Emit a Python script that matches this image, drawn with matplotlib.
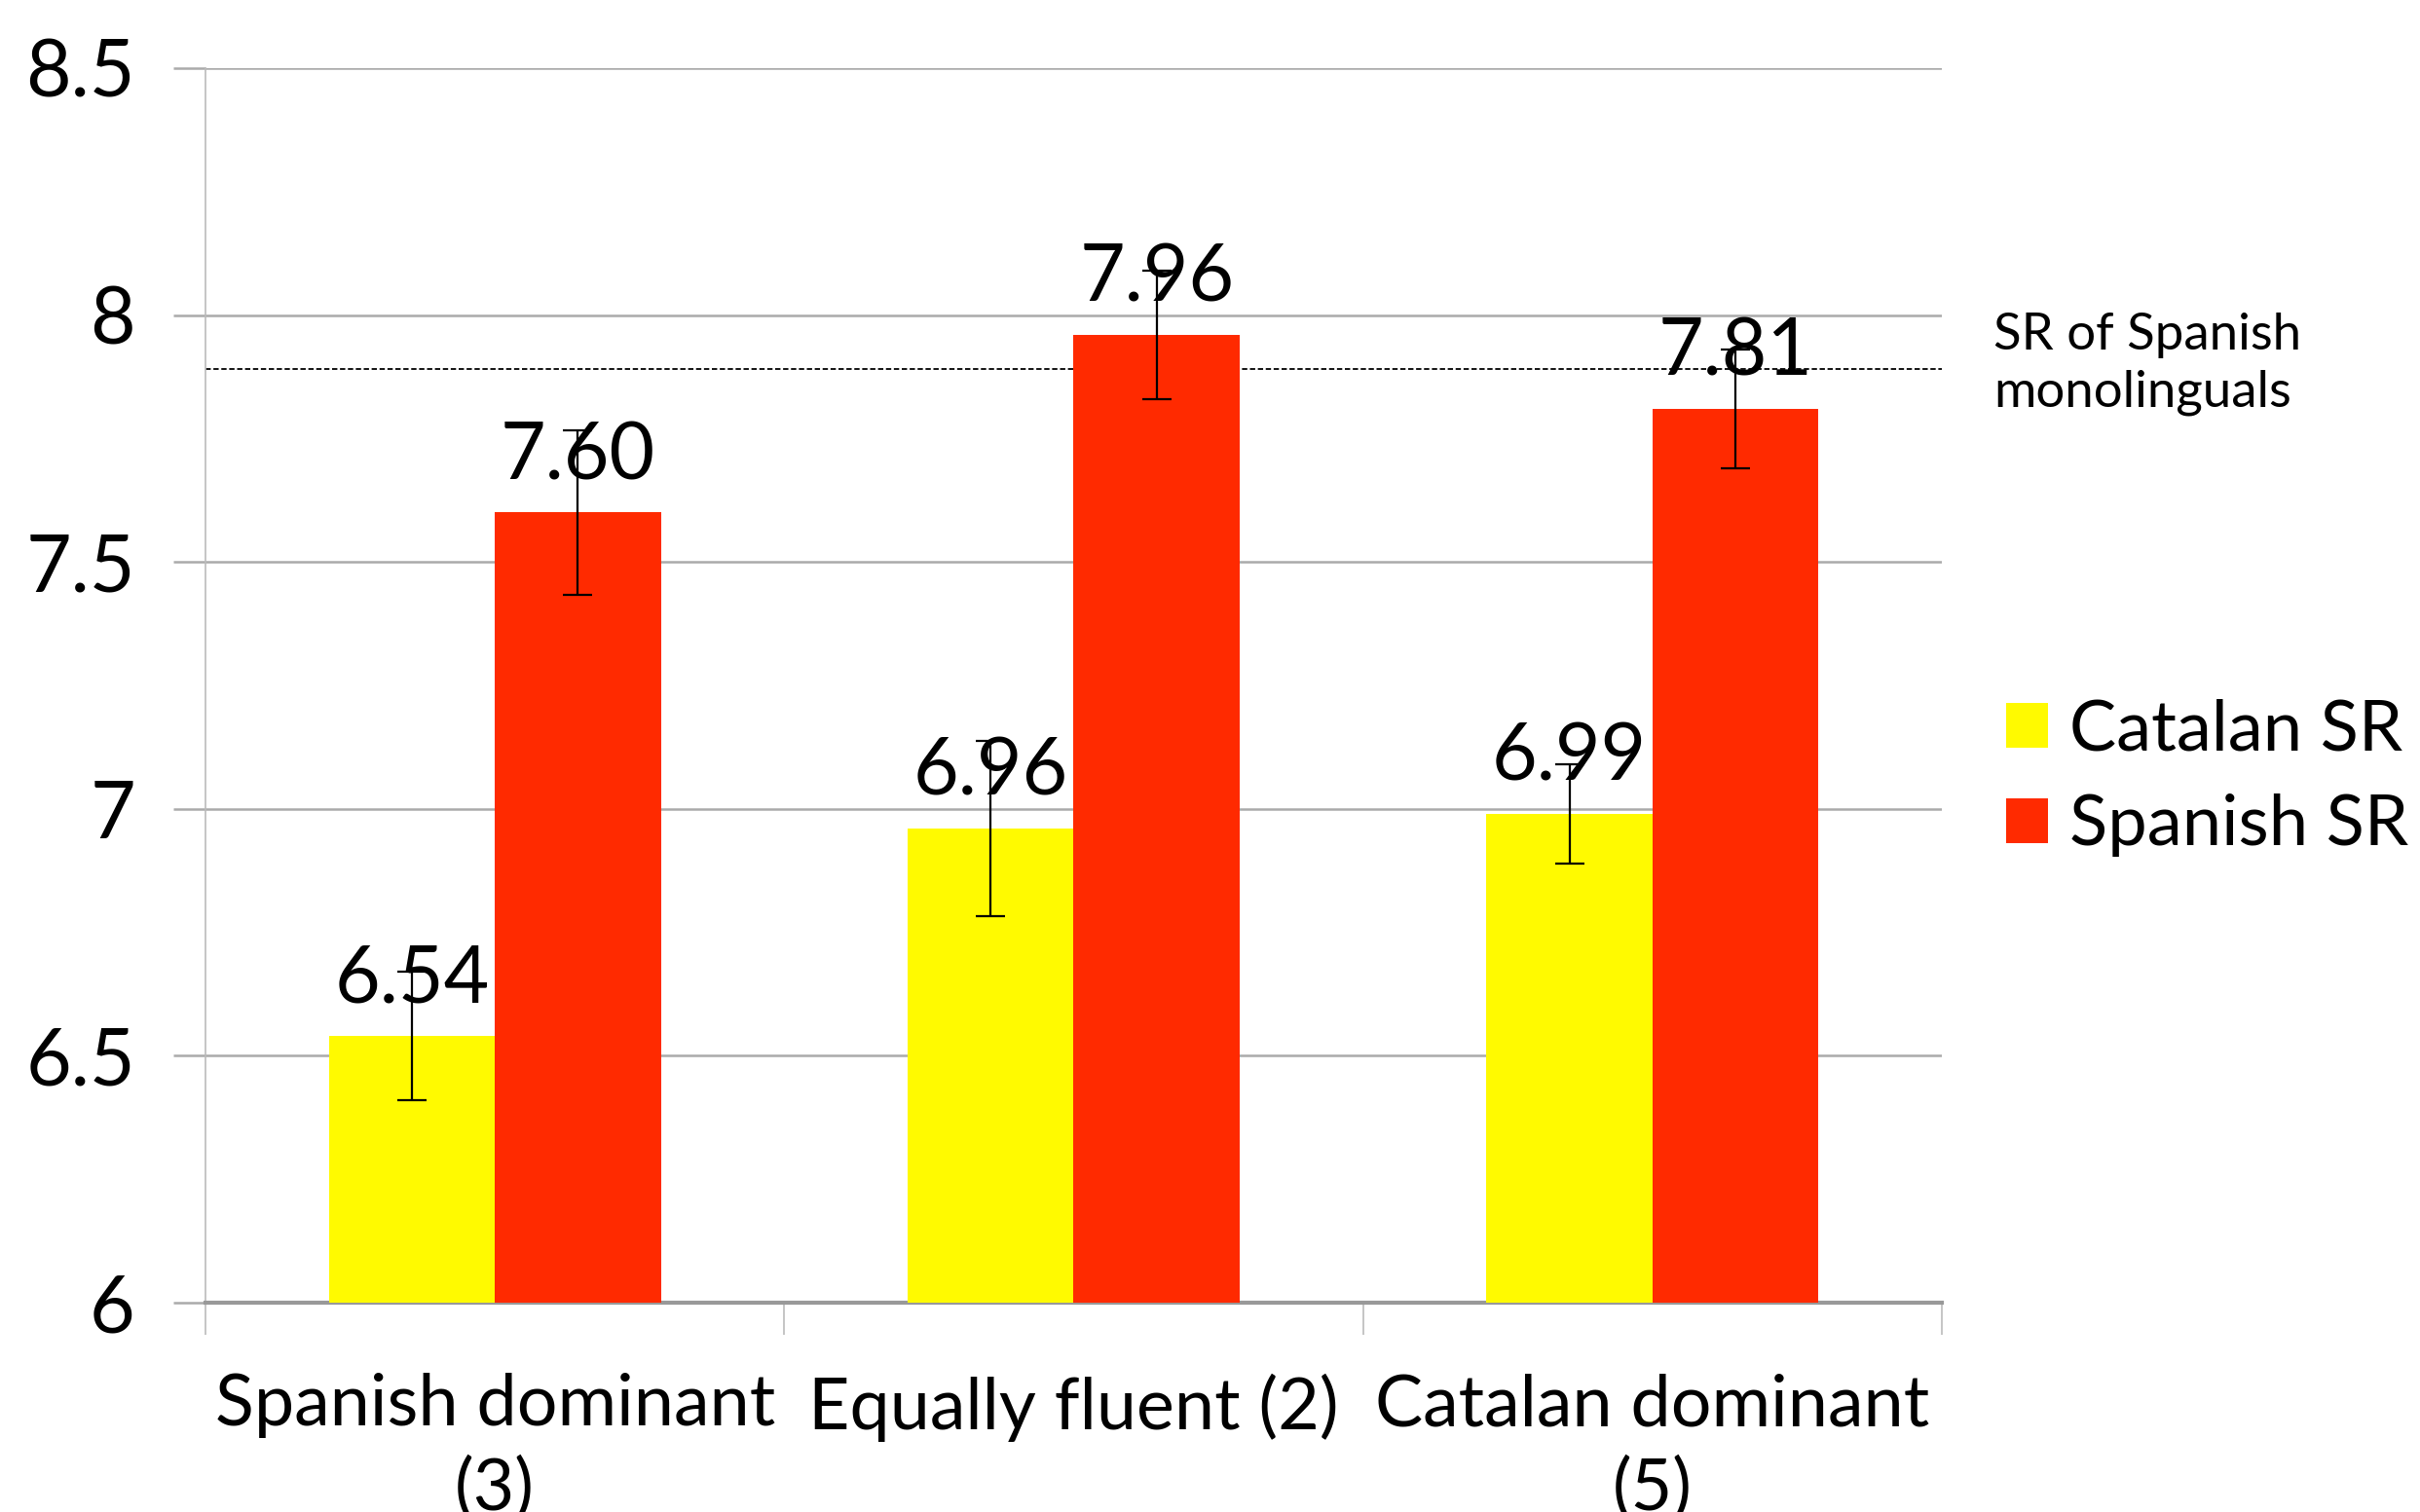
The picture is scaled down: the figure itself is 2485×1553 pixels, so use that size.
import numpy as np
import matplotlib
matplotlib.use("Agg")
import matplotlib.pyplot as plt

# data
groups = ["Spanish dominant\n(3)", "Equally fluent (2)", "Catalan dominant\n(5)"]
catalan_sr = [6.54, 6.96, 6.99]
catalan_err = [0.13, 0.177, 0.10]
spanish_sr = [7.60, 7.96, 7.81]
spanish_err = [0.166, 0.13, 0.12]
monolingual_sr = 7.89
yticks = [6, 6.5, 7, 7.5, 8, 8.5]
ytick_labels = ["6", "6.5", "7", "7.5", "8", "8.5"]

plt.rcParams["font.family"] = ["Lato", "DejaVu Sans"]

fig = plt.figure(figsize=(24.85, 15.53), dpi=100)
ax = fig.add_axes([0.0849, 0.1384, 0.7175, 0.8166])

xs = np.arange(len(groups))
w = 0.287
fs = 58

ax.bar(xs - w / 2, catalan_sr, width=w, color="#FFFA00", label="Catalan SR", zorder=3)
ax.bar(xs + w / 2, spanish_sr, width=w, color="#FF2A00", label="Spanish SR", zorder=3)
ax.errorbar(xs - w / 2, catalan_sr, yerr=catalan_err, fmt="none", ecolor="black",
            elinewidth=1.6, capsize=11, capthick=1.6, zorder=4)
ax.errorbar(xs + w / 2, spanish_sr, yerr=spanish_err, fmt="none", ecolor="black",
            elinewidth=1.6, capsize=11, capthick=1.6, zorder=4)

for x, v in zip(xs - w / 2, catalan_sr):
    ax.text(x, v + 0.04, f"{v:.2f}", ha="center", va="bottom", fontsize=fs, zorder=5)
for x, v in zip(xs + w / 2, spanish_sr):
    ax.text(x, v + 0.04, f"{v:.2f}", ha="center", va="bottom", fontsize=fs, zorder=5)

ax.axhline(monolingual_sr, color="black", ls=(0, (3, 1.5)), lw=1.3, zorder=2)
ax.text(1.03, monolingual_sr + 0.01, "SR of Spanish\nmonolinguals", transform=ax.get_yaxis_transform(),
        ha="left", va="center", fontsize=38, linespacing=1.3)

ax.set_ylim(6, 8.5)
ax.set_xlim(-0.5, 2.5)
ax.set_yticks(yticks)
ax.set_yticklabels(ytick_labels, fontsize=fs)
ax.yaxis.grid(True, color="#aaaaaa", lw=1.8, zorder=0)
ax.tick_params(axis="y", length=24, width=1.8, color="#aaaaaa", pad=28)

# category boundaries as ticks, labels in between
ax.set_xticks([-0.5, 0.5, 1.5, 2.5])
ax.set_xticklabels([])
ax.tick_params(axis="x", which="major", length=24, width=1.2, color="#bbbbbb")
ax.set_xticks(xs, minor=True)
ax.set_xticklabels(groups, minor=True, fontsize=53, linespacing=1.35)
ax.tick_params(axis="x", which="minor", length=0, pad=52)

for s in ["top", "right"]:
    ax.spines[s].set_visible(False)
ax.spines["left"].set_color("#bbbbbb")
ax.spines["left"].set_linewidth(1.2)
ax.spines["bottom"].set_color("#999999")
ax.spines["bottom"].set_linewidth(3)
ax.set_axisbelow(True)

ax.legend(loc="center left", bbox_to_anchor=(1.037, 0.425), frameon=False, fontsize=52,
          handlelength=0.6, handleheight=0.6, handletextpad=0.3, labelspacing=0.45,
          borderaxespad=0, borderpad=0)

fig.savefig("out.png", dpi=100)
